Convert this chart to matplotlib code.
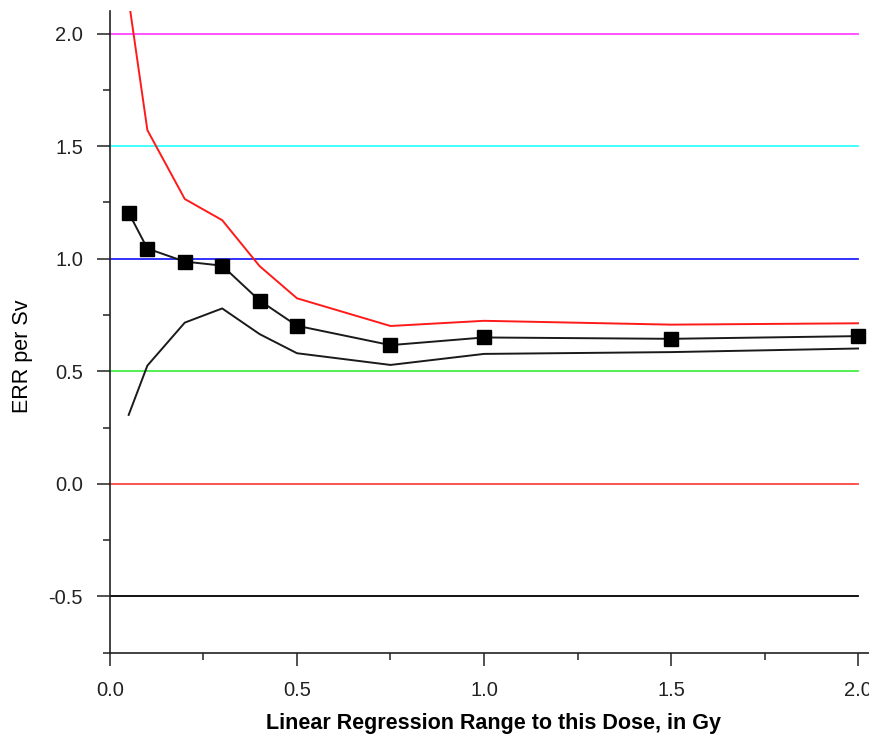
import matplotlib
matplotlib.use("Agg")
import matplotlib.pyplot as plt
from matplotlib.ticker import MultipleLocator

plt.rcParams['font.family'] = ['Liberation Sans', 'DejaVu Sans']

dose = [0.05, 0.1, 0.2, 0.3, 0.4, 0.5, 0.75, 1.0, 1.5, 2.0]
err_central = [1.204, 1.045, 0.987, 0.969, 0.814, 0.702, 0.616, 0.650, 0.644, 0.656]
err_upper = [2.15, 1.571, 1.265, 1.171, 0.967, 0.824, 0.701, 0.724, 0.707, 0.713]
err_lower = [0.306, 0.525, 0.716, 0.779, 0.665, 0.580, 0.528, 0.577, 0.585, 0.601]

ref_levels = [2.0, 1.5, 1.0, 0.5, 0.0, -0.5]
ref_colors = ['#ff44ff', '#33ffff', '#2222ff', '#44ee44', '#ff4444', '#000000']

fig = plt.figure(figsize=(8.7, 7.34), dpi=100)
ax = fig.add_axes([0.1264, 0.1108, 0.8736, 0.8742])

for lvl, c in zip(ref_levels, ref_colors):
    ax.plot([0, 2.0], [lvl, lvl], color=c, lw=1.3, zorder=1)

ax.plot(dose, err_upper, color='#ff1a1a', lw=1.4, zorder=2)
ax.plot(dose, err_lower, color='#1a1a1a', lw=1.4, zorder=2)
ax.plot(dose, err_central, color='#1a1a1a', lw=1.4, marker='s', markersize=9.5,
        markerfacecolor='black', markeredgecolor='black', zorder=3)

ax.set_xlim(0, 2.032)
ax.set_ylim(-0.75, 2.1)

for s in ['top', 'right']:
    ax.spines[s].set_visible(False)
for s in ['left', 'bottom']:
    ax.spines[s].set_linewidth(1.2)
    ax.spines[s].set_color('#222222')

ax.xaxis.set_major_locator(MultipleLocator(0.5))
ax.xaxis.set_minor_locator(MultipleLocator(0.25))
ax.yaxis.set_major_locator(MultipleLocator(0.5))
ax.yaxis.set_minor_locator(MultipleLocator(0.25))
ax.set_xticks([0.0, 0.5, 1.0, 1.5, 2.0])
ax.set_xticklabels(['0.0', '0.5', '1.0', '1.5', '2.0'])
ax.set_yticks([-0.5, 0.0, 0.5, 1.0, 1.5, 2.0])
ax.set_yticklabels(['-0.5', '0.0', '0.5', '1.0', '1.5', '2.0'])

ax.tick_params(axis='both', which='major', direction='out', length=9.5, width=1.1,
               labelsize=14.5, colors='#222222')
ax.tick_params(axis='both', which='minor', direction='out', length=5, width=1.1,
               colors='#222222')
ax.tick_params(axis='y', which='major', pad=10)
ax.tick_params(axis='x', which='major', pad=11)
for lab in ax.get_xticklabels() + ax.get_yticklabels():
    lab.set_color('#222222')

ax.set_xlabel('Linear Regression Range to this Dose, in Gy', fontsize=15.5,
              fontweight='bold')
ax.set_ylabel('ERR per Sv', fontsize=15.5)
ax.xaxis.set_label_coords(0.505, -0.094)
ax.yaxis.set_label_coords(-0.101, 0.462)

fig.savefig('out.png', dpi=100)
